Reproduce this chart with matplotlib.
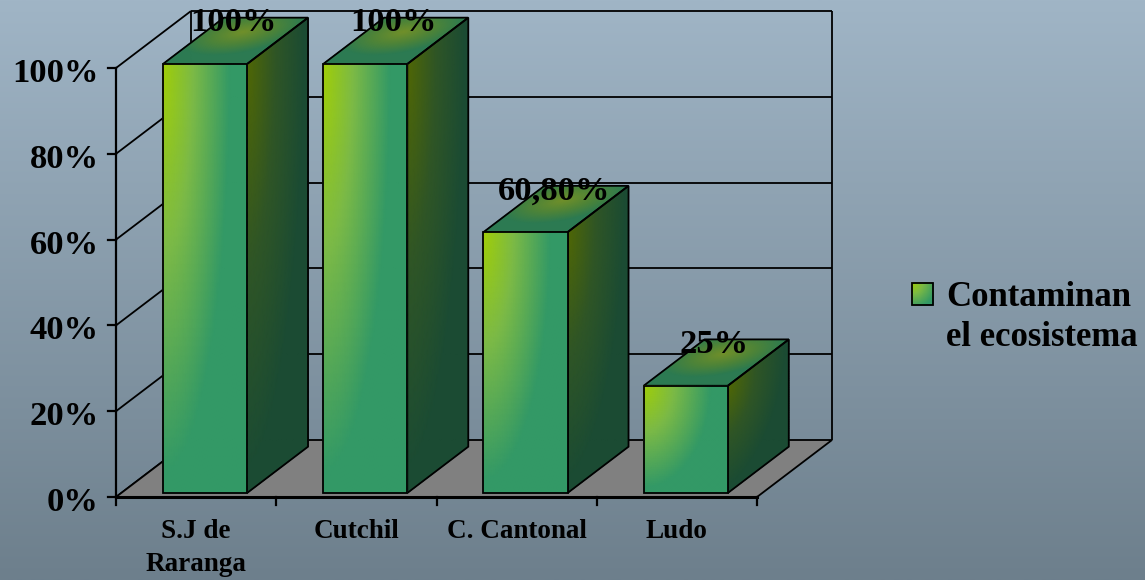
import numpy as np
import matplotlib
matplotlib.use("Agg")
import matplotlib.pyplot as plt
from matplotlib.colors import LinearSegmentedColormap
from matplotlib.patches import Polygon

# ---- data -------------------------------------------------------------
categories = ["S.J de\nRaranga", "Cutchil", "C. Cantonal", "Ludo"]
values = [100, 100, 60.8, 25]          # percent
y_ticks = [0, 20, 40, 60, 80, 100]
series_name = "Contaminan\nel ecosistema"

# ---- figure / canvas --------------------------------------------------
W, H = 1145, 580
fig = plt.figure(figsize=(W / 100, H / 100), dpi=100)
ax = fig.add_axes([0, 0, 1, 1])

FONT = "Liberation Serif"

bg = LinearSegmentedColormap.from_list("bg", ["#a0b5c6", "#6d7f8c"])
ax.imshow(np.linspace(0, 1, 256).reshape(-1, 1), cmap=bg,
          extent=(0, W, H, 0), aspect="auto", zorder=0)
ax.set_xlim(0, W)
ax.set_ylim(H, 0)
ax.axis("off")

# ---- oblique 3-D projection (category, value, depth) -> canvas ----------
ORIGIN = (116, 497)
CAT_W = 160.25
PX_PER_PCT = 4.29
DEPTH_VEC = (75, -57)


def proj(x, v, d):
    return (ORIGIN[0] + np.asarray(x) * CAT_W + np.asarray(d) * DEPTH_VEC[0],
            ORIGIN[1] - np.asarray(v) * PX_PER_PCT + np.asarray(d) * DEPTH_VEC[1])


n_cat = len(categories)
v_max = y_ticks[-1]
BAR_L, BAR_R = 0.26, 0.785
D_FRONT, D_BACK = 0.07, 0.883

front_cmap = LinearSegmentedColormap.from_list(
    "front", [(0, "#a0ce08"), (0.45, "#7cba46"), (1, "#339966")])
side_cmap = LinearSegmentedColormap.from_list(
    "side", [(0, "#506705"), (0.5, "#2f5526"), (1, "#1b4b33")])
top_cmap = LinearSegmentedColormap.from_list(
    "top", [(0, "#71902a"), (0.5, "#4f8438"), (1, "#2c7a52")])


def shade_face(P, cmap, tfun, z, n=48):
    s = np.linspace(0, 1, n)
    S, R = np.meshgrid(s, s)
    X, Y = P(S, R)
    T = np.clip(tfun(S, R), 0, 1)
    ax.pcolormesh(X, Y, T, cmap=cmap, vmin=0, vmax=1,
                  shading="gouraud", zorder=z)
    corners = [P(0, 0), P(1, 0), P(1, 1), P(0, 1)]
    ax.add_patch(Polygon([(float(a), float(b)) for a, b in corners],
                         closed=True, fc="none", ec="black", lw=1.3,
                         zorder=z + 0.5, joinstyle="miter"))


LINE = dict(color="black", lw=1.3, solid_capstyle="butt")

# ---- walls, gridlines and floor --------------------------------------
for t in y_ticks[1:]:
    x0, y0 = proj(0, t, 1)
    x1, y1 = proj(n_cat, t, 1)
    ax.plot([x0, x1], [y0, y1], zorder=2, **LINE)
for t in y_ticks:
    x0, y0 = proj(0, t, 0)
    x1, y1 = proj(0, t, 1)
    ax.plot([x0, x1], [y0, y1], zorder=2, **LINE)
for xc in (0, n_cat):
    x0, y0 = proj(xc, 0, 1)
    x1, y1 = proj(xc, v_max, 1)
    ax.plot([x0, x1], [y0, y1], zorder=2, **LINE)

floor = [proj(0, 0, 0), proj(n_cat, 0, 0), proj(n_cat, 0, 1), proj(0, 0, 1)]
ax.add_patch(Polygon([(float(a), float(b)) for a, b in floor], closed=True,
                     fc="#808080", ec="black", lw=1.3, zorder=3))

# ---- bars --------------------------------------------------------------
for i, v in enumerate(values):
    xl, xr = i + BAR_L, i + BAR_R
    z = 10 + i * 3

    # right side face
    shade_face(lambda s, r, xr=xr, v=v: proj(xr, v * (1 - r),
                                             D_FRONT + s * (D_BACK - D_FRONT)),
               side_cmap,
               lambda s, r: np.hypot(s / 0.95, r / 0.95), z)
    # top face
    shade_face(lambda s, r, xl=xl, xr=xr, v=v: proj(xl + s * (xr - xl), v,
                                                    D_FRONT + r * (D_BACK - D_FRONT)),
               top_cmap,
               lambda s, r: np.hypot((s - 0.45) / 0.65, (r - 0.7) / 0.5), z)
    # front face
    shade_face(lambda s, r, xl=xl, xr=xr, v=v: proj(xl + s * (xr - xl),
                                                    v * (1 - r), D_FRONT),
               front_cmap,
               lambda s, r: np.hypot(s / 0.8, r / 0.95), z + 1)

# ---- value axis --------------------------------------------------------
x0, y0 = proj(0, 0, 0)
x1, y1 = proj(0, v_max, 0)
ax.plot([x0, x1], [y0, y1], color="black", lw=1.6, zorder=30)
for t in y_ticks:
    tx, ty = proj(0, t, 0)
    ax.plot([tx - 8, tx], [ty, ty], color="black", lw=1.6, zorder=30)
    ax.text(tx - 17, ty + 14, f"{t}%", ha="right", va="baseline",
            fontsize=24.8, fontweight="bold", family=FONT, zorder=31)

# ---- category axis -----------------------------------------------------
x0, y0 = proj(0, 0, 0)
x1, y1 = proj(n_cat, 0, 0)
ax.plot([x0, x1], [y0, y1], color="black", lw=2.2, zorder=30)
for k in range(n_cat + 1):
    tx, ty = proj(k, 0, 0)
    ax.plot([tx, tx], [ty, ty + 8], color="black", lw=1.6, zorder=30)
for i, name in enumerate(categories):
    tx, ty = proj(i + 0.5, 0, 0)
    ax.text(tx, ty + 22, name, ha="center", va="top", fontsize=19.5,
            fontweight="bold", family=FONT, linespacing=1.42, zorder=31)


# ---- value labels ------------------------------------------------------
def fmt(v):
    if float(v).is_integer():
        return f"{v:.0f}%"
    return f"{v:.2f}%".replace(".", ",")


for i, v in enumerate(values):
    lx, ly = proj(i + (BAR_L + BAR_R) / 2, v, 0.45)
    ax.text(lx, ly - 11, fmt(v), ha="center", va="baseline", fontsize=24.8,
            fontweight="bold", family=FONT, zorder=40)

# ---- legend ------------------------------------------------------------
lx0, ly0, lsz = 912, 283, 21
s = np.linspace(0, 1, 24)
S, R = np.meshgrid(s, s)
ax.pcolormesh(lx0 + S * lsz, ly0 + R * (lsz + 1), np.clip(np.hypot(S, R) / 1.2, 0, 1),
              cmap=front_cmap, vmin=0, vmax=1, shading="gouraud", zorder=40)
ax.add_patch(Polygon([(lx0, ly0), (lx0 + lsz, ly0), (lx0 + lsz, ly0 + lsz + 1),
                      (lx0, ly0 + lsz + 1)], closed=True, fc="none", ec="black",
                     lw=1.3, zorder=41))
ax.text(946, 281, series_name, ha="left", va="top", fontsize=25,
        fontweight="bold", family=FONT, linespacing=1.3, zorder=41)

fig.savefig("out.png", dpi=100)
